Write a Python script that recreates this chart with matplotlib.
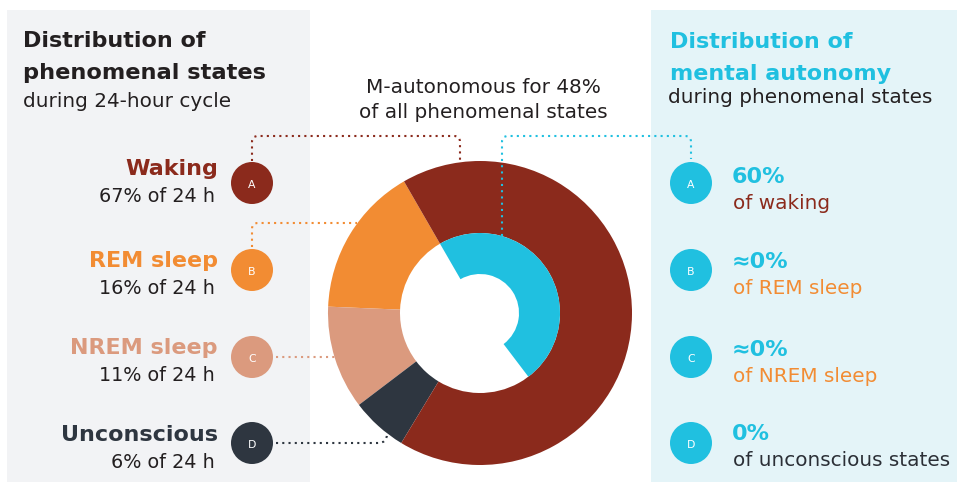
import numpy as np
import matplotlib
matplotlib.use("Agg")
import matplotlib.pyplot as plt
from matplotlib.path import Path
from matplotlib.patches import PathPatch, Circle, Rectangle

# ---------------- data ----------------
states = ["Waking", "REM sleep", "NREM sleep", "Unconscious"]
letters = ["A", "B", "C", "D"]
share_24h = [67, 16, 11, 6]                 # % of 24 h
autonomy_labels = ["60%", "\u22480%", "\u22480%", "0%"]
autonomy_pct = [60, 0, 0, 0]
autonomy_of = ["of waking", "of REM sleep", "of NREM sleep", "of unconscious states"]
overall_autonomous = 48                      # % of all phenomenal states

# ---------------- style ----------------
state_colors = ["#8B2A1C", "#F28C33", "#DB9A7E", "#2E3640"]
autonomy_text_colors = ["#8B2A1C", "#F28C33", "#F28C33", "#2B2F36"]
cyan = "#20C0E0"
dark = "#231F20"
reg = 14.4
plt.rcParams["font.family"] = ["DejaVu Sans"]

W, H = 957, 485
fig = plt.figure(figsize=(W / 100, H / 100), dpi=100, facecolor="white")

# background panels
bg = fig.add_axes([0, 0, 1, 1], zorder=0)
bg.set_xlim(0, W); bg.set_ylim(H, 0); bg.axis("off")
bg.add_patch(Rectangle((7, 11), 303, 472, facecolor="#F2F3F5", edgecolor="none"))
bg.add_patch(Rectangle((651, 11), 306, 472, facecolor="#E4F4F8", edgecolor="none"))

# donut
cx, cy, R = 480, 314, 152
dax = fig.add_axes([(cx - R) / W, (H - cy - R) / H, 2 * R / W, 2 * R / H], zorder=1)
dax.set_facecolor("none")
order = [1, 2, 3, 0]
dax.pie([share_24h[i] for i in order], colors=[state_colors[i] for i in order],
        startangle=120, counterclock=True, radius=1.0,
        wedgeprops=dict(width=(R - 80) / R, linewidth=0))
dax.pie([overall_autonomous, 100 - overall_autonomous], colors=[cyan, "none"],
        startangle=120, counterclock=False, radius=80 / R,
        wedgeprops=dict(width=(80 - 39) / R, linewidth=0))
dax.set_xlim(-1, 1); dax.set_ylim(-1, 1); dax.set_aspect("equal"); dax.axis("off")

# overlay
ov = fig.add_axes([0, 0, 1, 1], zorder=2)
ov.set_facecolor("none")
ov.set_xlim(0, W); ov.set_ylim(H, 0); ov.axis("off")


def rounded(pts, r=6):
    verts = [pts[0]]
    codes = [Path.MOVETO]
    for i in range(1, len(pts) - 1):
        p0, p1, p2 = (np.array(p, float) for p in pts[i - 1:i + 2])
        d1 = (p1 - p0) / np.linalg.norm(p1 - p0)
        d2 = (p2 - p1) / np.linalg.norm(p2 - p1)
        verts += [tuple(p1 - d1 * r), tuple(p1), tuple(p1 + d2 * r)]
        codes += [Path.LINETO, Path.CURVE3, Path.CURVE3]
    verts.append(pts[-1]); codes.append(Path.LINETO)
    return Path(verts, codes)


def dotted(pts, color, r=6):
    ov.add_patch(PathPatch(rounded(pts, r), fill=False, edgecolor=color,
                           linewidth=1.5, linestyle=(0, (1, 2))))


dotted([(252, 162), (252, 137), (460, 137), (460, 161)], state_colors[0])
dotted([(252, 248), (252, 224), (357, 224)], state_colors[1])
dotted([(276, 358), (335, 358)], state_colors[2])
dotted([(276, 444), (387, 444), (387, 434)], state_colors[3], r=9)
dotted([(502, 237), (502, 137), (691, 137), (691, 160)], cyan)

ys = [184, 271, 358, 444]
for i in range(4):
    ov.add_patch(Circle((252, ys[i]), 21, facecolor=state_colors[i], edgecolor="none"))
    ov.text(252, ys[i] + 1, letters[i], color="white", fontsize=7.8,
            ha="center", va="center")
    ov.add_patch(Circle((691, ys[i]), 21, facecolor=cyan, edgecolor="none"))
    ov.text(691, ys[i] + 1, letters[i], color="white", fontsize=7.8,
            ha="center", va="center")

# left titles
ov.text(23, 47, "Distribution of", fontsize=16, fontweight="bold", color=dark, va="baseline")
ov.text(23, 79, "phenomenal states", fontsize=16.2, fontweight="bold", color=dark, va="baseline")
ov.text(23, 107, "during 24-hour cycle", fontsize=reg, color=dark, va="baseline")

# right titles
ov.text(670, 48, "Distribution of", fontsize=16, fontweight="bold", color=cyan, va="baseline")
ov.text(670, 80, "mental autonomy", fontsize=16, fontweight="bold", color=cyan, va="baseline")
ov.text(668, 103, "during phenomenal states", fontsize=reg, color=dark, va="baseline")

# center text
ov.text(483, 93, f"M-autonomous for {overall_autonomous}%", fontsize=reg, color=dark,
        ha="center", va="baseline")
ov.text(483, 118, "of all phenomenal states", fontsize=reg, color=dark,
        ha="center", va="baseline")

# left labels
name_base = [175, 267, 354, 441]
for i in range(4):
    ov.text(218, name_base[i], states[i], fontsize=16, fontweight="bold",
            color=state_colors[i], ha="right", va="baseline")
    ov.text(215, name_base[i] + 27, f"{share_24h[i]}% of 24 h", fontsize=13.8,
            color=dark, ha="right", va="baseline")

# right labels
val_base = [183, 268, 356, 440]
for i in range(4):
    ov.text(732, val_base[i], autonomy_labels[i], fontsize=16, fontweight="bold",
            color=cyan, ha="left", va="baseline")
    ov.text(733, val_base[i] + 26, autonomy_of[i], fontsize=reg,
            color=autonomy_text_colors[i], ha="left", va="baseline")

fig.savefig("out.png", dpi=100, facecolor="white")
